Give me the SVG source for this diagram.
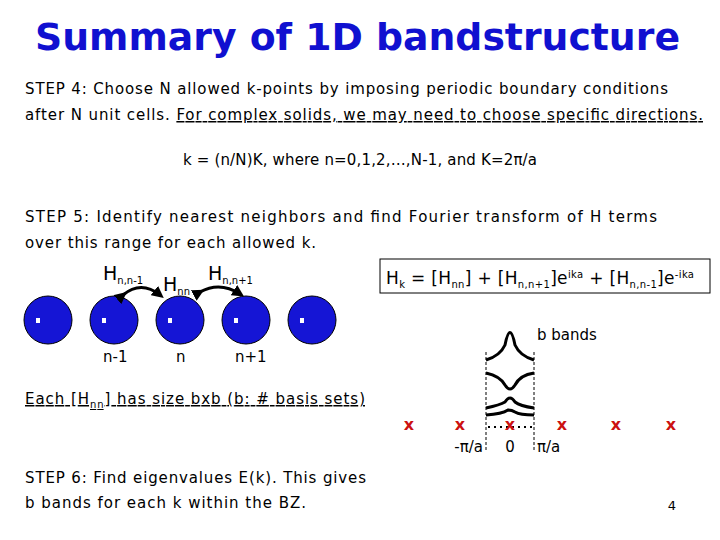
<svg xmlns="http://www.w3.org/2000/svg" width="720" height="540" viewBox="0 0 720 540">
<style>
text{font-family:"DejaVu Sans","Liberation Sans",sans-serif;fill:#000}
.t{font-size:15px}
.s{font-size:10px}
.x{fill:#cc1111;font-size:16px;font-weight:bold;text-anchor:middle}
.b{fill:none;stroke:#000;stroke-width:3}
</style>
<defs>
<marker id="ah" viewBox="0 0 10 10" refX="6" refY="5" markerWidth="4" markerHeight="4" orient="auto"><path d="M0,0L10,5L0,10z" fill="#000"/></marker>
</defs>
<rect width="720" height="540" fill="#fff"/>
<text x="35" y="50" font-size="38" font-weight="bold" style="fill:#1010d0" textLength="645" lengthAdjust="spacingAndGlyphs">Summary of 1D bandstructure</text>
<text class="t" x="25" y="94" textLength="643">STEP 4:  Choose N allowed k-points by imposing periodic boundary conditions</text>
<text class="t" x="25" y="120" textLength="678">after N unit cells. <tspan text-decoration="underline">For complex solids, we may need to choose specific directions.</tspan></text>
<text class="t" x="183" y="165" textLength="354">k = (n/N)K, where n=0,1,2,…,N-1, and K=2π/a</text>
<text class="t" x="25" y="222" textLength="632">STEP 5: Identify nearest neighbors and find Fourier transform of H terms</text>
<text class="t" x="25" y="248" textLength="291">over this range for each allowed k.</text>
<g id="atoms" fill="#1515d5" stroke="#000" stroke-width="1">
<circle cx="48" cy="320" r="24"/><circle cx="114" cy="320" r="24"/><circle cx="180" cy="320" r="24"/><circle cx="246" cy="320" r="24"/><circle cx="312" cy="320" r="24"/>
<g fill="#fff" stroke="none"><rect x="36" y="318" width="4" height="5"/><rect x="102" y="318" width="4" height="5"/><rect x="168" y="318" width="4" height="5"/><rect x="234" y="318" width="4" height="5"/><rect x="300" y="318" width="4" height="5"/></g>
</g>
<g id="hlabels">
<text x="103" y="280" font-size="19">H<tspan class="s" dy="4">n,n-1</tspan></text>
<text x="163" y="291" font-size="19">H<tspan class="s" dy="4">nn</tspan></text>
<text x="208" y="280" font-size="19">H<tspan class="s" dy="4">n,n+1</tspan></text>
<text class="t" x="103" y="362">n-1</text><text class="t" x="176" y="362">n</text><text class="t" x="235" y="362">n+1</text>
</g>
<g id="connectors" fill="none" stroke="#000" stroke-width="3">
<path d="M123,295 Q141,280 160,295" marker-start="url(#ah)" marker-end="url(#ah)"/>
<path d="M200,292 Q220,281 240,294" marker-start="url(#ah)" marker-end="url(#ah)"/>
</g>
<text class="t" x="25" y="404" text-decoration="underline" textLength="340">Each [H<tspan class="s" dy="4">nn</tspan><tspan dy="-4">] has size bxb (b: # basis sets)</tspan></text>
<g id="formula">
<rect x="380" y="259" width="330" height="34" fill="#fff" stroke="#000" stroke-width="1"/>
<text x="386" y="284" font-size="17" textLength="308">H<tspan class="s" dy="4">k</tspan><tspan dy="-4"> = [H</tspan><tspan class="s" dy="4">nn</tspan><tspan dy="-4">] + [H</tspan><tspan class="s" dy="4">n,n+1</tspan><tspan dy="-4">]e</tspan><tspan class="s" dy="-6">ika</tspan><tspan dy="6"> + [H</tspan><tspan class="s" dy="4">n,n-1</tspan><tspan dy="-4">]e</tspan><tspan class="s" dy="-6">-ika</tspan></text>
</g>
<g id="bands">
<path class="b" d="M486,360 Q500,356 505,345 Q510,320 515,345 Q520,356 534,360"/>
<path class="b" d="M486,373 Q500,376 505,385 Q510,393 515,385 Q520,375 534,373"/>
<path class="b" d="M486,408 Q500,405 505,402 Q510,394 515,402 Q520,406 534,408"/>
<path class="b" d="M486,415 Q502,414 508,410 Q512,410 515,412 Q520,415 534,415"/>
<line x1="486" y1="352" x2="486" y2="452" stroke="#000" stroke-dasharray="3,2"/>
<line x1="534" y1="352" x2="534" y2="452" stroke="#000" stroke-dasharray="3,2"/>
<line x1="488" y1="427" x2="532" y2="427" stroke="#000" stroke-width="2" stroke-dasharray="2,4"/>
<text class="t" x="537" y="340">b bands</text>
</g>
<g id="kpoints">
<text class="x" x="409" y="430">x</text><text class="x" x="460" y="430">x</text><text class="x" x="510" y="430">x</text><text class="x" x="562" y="430">x</text><text class="x" x="616" y="430">x</text><text class="x" x="671" y="430">x</text>
<text class="t" x="483" y="452" text-anchor="end">-π/a</text>
<text class="t" x="510" y="452" text-anchor="middle">0</text>
<text class="t" x="537" y="452">π/a</text>
</g>
<text class="t" x="25" y="483" textLength="341">STEP 6: Find eigenvalues E(k). This gives</text>
<text class="t" x="25" y="508" textLength="281">b bands for each k within the BZ.</text>
<text x="672" y="510" font-size="13" text-anchor="middle">4</text>
</svg>
